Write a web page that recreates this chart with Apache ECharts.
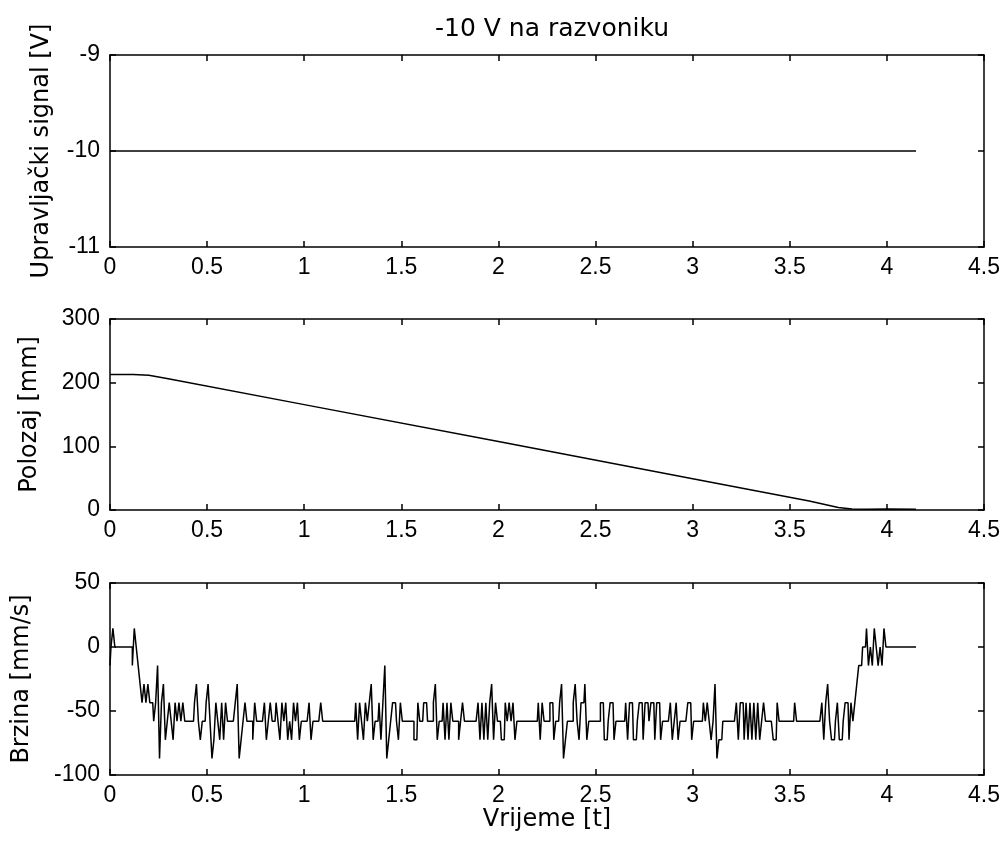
<!DOCTYPE html>
<html>
<head>
<meta charset="utf-8">
<script src="https://cdn.jsdelivr.net/npm/echarts@6/dist/echarts.min.js"></script>
<style>html,body{margin:0;padding:0;background:#fff;}#c{width:1006px;height:846px;}</style>
</head>
<body>
<div id="c"></div>
<script>
// ---- data ----
var titleText = '-10 V na razvoniku';
var xTicks = [0, 0.5, 1, 1.5, 2, 2.5, 3, 3.5, 4, 4.5];

// top: control signal [V]
var signalT = [0, 4.15];
var signalV = [-10, -10];

// middle: position [mm]
var posT = [0, 0.12, 0.2, 0.3, 1.0, 2.0, 3.0, 3.6, 3.75, 3.82, 3.9, 4.0, 4.15];
var posV = [213, 213, 211.5, 206, 165.5, 107.5, 49, 14, 4, 1.5, 1, 1.5, 1];

// bottom: velocity [mm/s], sampled every 0.01 s, quantized levels
var velDt = 0.01;
var velLevels = [-87, -72.5, -58, -43.5, -29, -14.5, 0, 14.5];
var velCodes = [
  '567', '666666666', '57654', '343433', '2350341', '232132323', '22222',
  '342122', '34201321313', '2222', '340123', '222', '13', '2222',
  '3123223213231213231', '2222', '31222232', '222222222222222',
  '231321323412', '2313501233213', '222222', '11322332223412',
  '231313222123', '2222222', '3131313413221132', '3231', '22222222222',
  '313222331223401', '22234213341', '222222', '331123312', '2222',
  '3133112331332331331', '2222', '312312', '222', '331', '22222',
  '32321240112', '222222', '31331313131312322221132', '2222222', '3',
  '2222222222222', '313421123112331323', '4556675657656576',
  '666666666666666'
];

// ---- build series ----
function pairs(t, v) { return t.map(function (x, i) { return [x, v[i]]; }); }
var velStr = velCodes.join('');
var velData = [];
for (var i = 0; i < velStr.length; i++) {
  velData.push([+(i * velDt).toFixed(2), velLevels[+velStr[i]]]);
}

var FONT = 'Liberation Sans, Arial, sans-serif';
var LFONT = 'DejaVu Sans, Verdana, sans-serif';
var FS = 23;
var grids = [
  { left: 110, right: 22, top: 55, height: 192 },
  { left: 110, right: 22, top: 319, height: 191 },
  { left: 110, right: 22, top: 583, height: 192 }
];
var yDefs = [
  { min: -11, max: -9, interval: 1, name: 'Upravljački signal [V]', gap: 56 },
  { min: 0, max: 300, interval: 100, name: 'Polozaj [mm]', gap: 68 },
  { min: -100, max: 50, interval: 50, name: 'Brzina [mm/s]', gap: 76 }
];
var lineStyle = { color: '#000', width: 1.5 };
var xAxes = [], yAxes = [];
grids.forEach(function (g, k) {
  xAxes.push({
    type: 'value', gridIndex: k, min: 0, max: 4.5, interval: 0.5, position: 'bottom',
    axisLine: { onZero: false, lineStyle: lineStyle }, axisTick: { inside: true, length: 6, lineStyle: lineStyle },
    axisLabel: { color: '#000', fontFamily: FONT, fontSize: FS, margin: 9 },
    splitLine: { show: false },
    name: k === 2 ? 'Vrijeme [t]' : '', nameLocation: 'middle', nameGap: 27,
    nameTextStyle: { color: '#000', fontFamily: LFONT, fontSize: 24, verticalAlign: 'top' }
  });
  xAxes.push({
    type: 'value', gridIndex: k, min: 0, max: 4.5, interval: 0.5, position: 'top',
    axisLine: { onZero: false, lineStyle: lineStyle }, axisTick: { inside: true, length: 6, lineStyle: lineStyle },
    axisLabel: { show: false }, splitLine: { show: false }
  });
  var d = yDefs[k];
  yAxes.push({
    type: 'value', gridIndex: k, min: d.min, max: d.max, interval: d.interval, position: 'left',
    axisLine: { onZero: false, lineStyle: lineStyle }, axisTick: { inside: true, length: 6, lineStyle: lineStyle },
    axisLabel: { color: '#000', fontFamily: FONT, fontSize: FS, margin: 10 },
    splitLine: { show: false },
    name: d.name, nameLocation: 'middle', nameGap: d.gap, nameRotate: 90,
    nameTextStyle: { color: '#000', fontFamily: LFONT, fontSize: 24 }
  });
  yAxes.push({
    type: 'value', gridIndex: k, min: d.min, max: d.max, interval: d.interval, position: 'right',
    axisLine: { onZero: false, lineStyle: lineStyle }, axisTick: { inside: true, length: 6, lineStyle: lineStyle },
    axisLabel: { show: false }, splitLine: { show: false }
  });
});

var chart = echarts.init(document.getElementById('c'));
chart.setOption({
  backgroundColor: '#fff',
  animation: false,
  title: {
    text: titleText, left: 547, top: 12, textAlign: 'center',
    textStyle: { color: '#000', fontFamily: LFONT, fontSize: 25, fontWeight: 'normal' }
  },
  grid: grids,
  xAxis: xAxes,
  yAxis: yAxes,
  series: [
    { type: 'line', xAxisIndex: 0, yAxisIndex: 0, data: pairs(signalT, signalV), showSymbol: false, lineStyle: lineStyle },
    { type: 'line', xAxisIndex: 2, yAxisIndex: 2, data: pairs(posT, posV), showSymbol: false, lineStyle: lineStyle },
    { type: 'line', xAxisIndex: 4, yAxisIndex: 4, data: velData, step: 'middle', showSymbol: false, lineStyle: { color: '#000', width: 1.5 } }
  ]
});
</script>
</body>
</html>
